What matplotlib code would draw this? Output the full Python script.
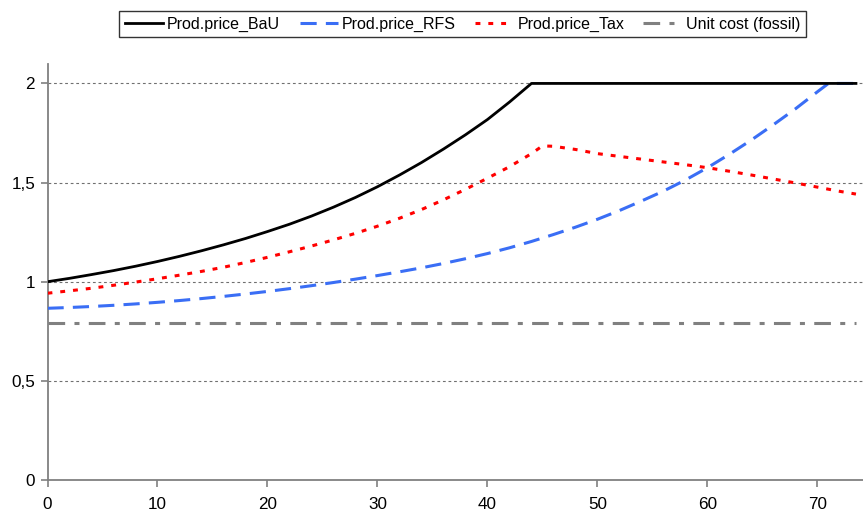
import matplotlib
matplotlib.use("Agg")
import matplotlib.pyplot as plt
from matplotlib.ticker import FixedLocator, FixedFormatter

plt.rcParams['font.family'] = ['Liberation Sans', 'DejaVu Sans']

# ---- data ----
bau_x = [0, 2, 4, 6, 8, 10, 12, 14, 16, 18, 20, 22, 24, 26, 28, 30, 32, 34, 36, 38, 40, 42, 44, 73.5]
bau_y = [1.000, 1.017, 1.036, 1.056, 1.078, 1.102, 1.128, 1.156, 1.186, 1.218, 1.253, 1.290,
         1.331, 1.376, 1.425, 1.479, 1.538, 1.601, 1.669, 1.741, 1.818, 1.906, 2.000, 2.000]

rfs_x = [0, 2, 4, 6, 8, 10, 12, 14, 16, 18, 20, 22, 24, 26, 28, 30, 32, 34, 36, 38, 40,
         42, 44, 46, 48, 50, 52, 54, 56, 58, 60, 62, 64, 66, 68, 70, 71, 73.5]
rfs_y = [0.866, 0.870, 0.875, 0.881, 0.888, 0.896, 0.905, 0.915, 0.926, 0.938, 0.951, 0.965,
         0.980, 0.996, 1.013, 1.031, 1.050, 1.070, 1.092, 1.116, 1.142, 1.171, 1.203, 1.238,
         1.275, 1.315, 1.359, 1.407, 1.457, 1.513, 1.575, 1.643, 1.715, 1.792, 1.872, 1.958,
         2.000, 2.000]

tax_x = [0, 2, 4, 6, 8, 10, 12, 14, 16, 18, 20, 22, 24, 26, 28, 30, 32, 34, 36, 38, 40, 42,
         44, 45, 46, 48, 50, 52, 54, 56, 58, 60, 62, 64, 66, 68, 70, 72, 73.5]
tax_y = [0.942, 0.954, 0.967, 0.982, 0.998, 1.015, 1.033, 1.052, 1.073, 1.097, 1.123, 1.151,
         1.180, 1.211, 1.244, 1.280, 1.320, 1.364, 1.413, 1.466, 1.522, 1.580, 1.646, 1.685,
         1.683, 1.667, 1.646, 1.632, 1.618, 1.604, 1.590, 1.575, 1.557, 1.538, 1.518, 1.498,
         1.477, 1.456, 1.442]

unit_x = [0, 73.5]
unit_y = [0.79, 0.79]

labels = ["Prod.price_BaU", "Prod.price_RFS", "Prod.price_Tax", "Unit cost (fossil)"]
y_ticks = [0, 0.5, 1, 1.5, 2]
y_tick_labels = ["0", "0,5", "1", "1,5", "2"]
x_ticks = [0, 10, 20, 30, 40, 50, 60, 70]

# ---- figure ----
fig = plt.figure(figsize=(8.63, 5.16), dpi=100)
ax = fig.add_axes([47.5 / 863, 1 - 480 / 516, 1 - 47.5 / 863, (480 - 63.6) / 516])

gray = "#808080"
for yv in y_ticks[1:]:
    ax.axhline(yv, color="#707070", lw=0.8, dashes=(2.5, 2.5), zorder=1)

l1, = ax.plot(bau_x, bau_y, color="black", lw=2.0, zorder=5, label=labels[0])
l2, = ax.plot(rfs_x, rfs_y, color="#3A6EF5", lw=2.2, dashes=(5.3, 3.0), zorder=4, label=labels[1])
l3, = ax.plot(tax_x, tax_y, color="#FF0000", lw=2.2, dashes=(1.6, 2.6), zorder=4, label=labels[2])
l4, = ax.plot(unit_x, unit_y, color=gray, lw=2.2, dashes=(5.45, 3.05, 1.64, 3.05), zorder=3, label=labels[3])

ax.set_xlim(0, 74.14)
ax.set_ylim(0, 2.1)

ax.yaxis.set_major_locator(FixedLocator(y_ticks))
ax.yaxis.set_major_formatter(FixedFormatter(y_tick_labels))
ax.xaxis.set_major_locator(FixedLocator(x_ticks))

for s in ["top", "right"]:
    ax.spines[s].set_visible(False)
for s in ["left", "bottom"]:
    ax.spines[s].set_color(gray)
    ax.spines[s].set_linewidth(1.3)

ax.tick_params(axis="both", colors=gray, labelcolor="black", labelsize=12.3,
               length=5, width=1.2, direction="out")
ax.tick_params(axis="y", pad=4)
ax.tick_params(axis="x", pad=7)

leg = fig.legend(handles=[l1, l2, l3, l4], labels=labels, loc="center",
                 bbox_to_anchor=(462.5 / 863, 1 - 24.3 / 516), ncol=4,
                 fontsize=11.5, frameon=True, fancybox=False, shadow=False,
                 handlelength=2.4, handletextpad=0.25, columnspacing=1.2,
                 borderpad=0.35, borderaxespad=0)
leg.get_frame().set_edgecolor("black")
leg.get_frame().set_linewidth(1.0)

fig.savefig("out.png", dpi=100)
